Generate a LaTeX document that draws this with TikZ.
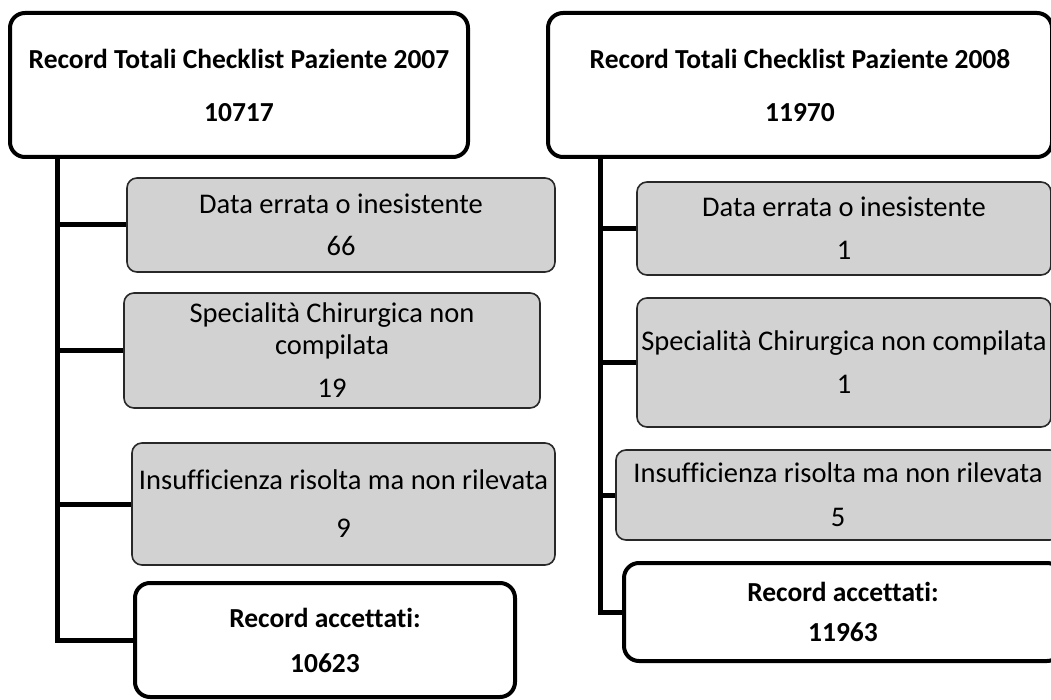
\documentclass[tikz,border=0pt]{standalone}
\usepackage{fontspec}
\setmainfont[Ligatures=NoCommon]{Carlito}
\definecolor{boxgray}{RGB}{210,210,210}
\definecolor{edgegray}{RGB}{40,40,40}
\tikzset{
  x=1pt, y=-1pt,
  headbox/.style={draw=black, line width=4pt, fill=white, rounded corners=15pt,
    align=center, font=\fontsize{27.5}{32}\selectfont\bfseries, inner sep=0pt},
  errbox/.style={draw=edgegray, line width=1.6pt, fill=boxgray, rounded corners=10pt,
    align=center, font=\fontsize{28.5}{32}\selectfont, inner sep=0pt},
  conn/.style={draw=black, line width=5pt},
}
\begin{document}
\begin{tikzpicture}
\clip (0,0) rectangle (1051,700);
\fill[white] (0,0) rectangle (1051,700);

% 2007 column
\node[headbox, minimum width=458pt, minimum height=144pt] (top07) at (239,85)
  {Record Totali Checklist Paziente 2007\\[21pt]10717};
\node[errbox, minimum width=428pt, minimum height=94pt] (g07a) at (341,225)
  {Data errata o inesistente\\[10pt]66};
\node[errbox, minimum width=416pt, minimum height=115pt] (g07b) at (332,350.5)
  {Specialità Chirurgica non\\compilata\\[11pt]19};
\node[errbox, minimum width=423pt, minimum height=122pt] (g07c) at (343.5,504)
  {Insufficienza risolta ma non rilevata\\[16pt]9};
\node[headbox, minimum width=380pt, minimum height=114pt] (acc07) at (325,640)
  {Record accettati:\\[13pt]10623};

% 2008 column
\node[headbox, minimum width=504pt, minimum height=144pt] (top08) at (800,85)
  {Record Totali Checklist Paziente 2008\\[21pt]11970};
\node[errbox, minimum width=414pt, minimum height=93pt] (g08a) at (844,228.5)
  {Data errata o inesistente\\[11pt]1};
\node[errbox, minimum width=414pt, minimum height=129pt] (g08b) at (844,362.5)
  {Specialità Chirurgica non compilata\\[11pt]1};
\node[errbox, minimum width=444pt, minimum height=90pt] (g08c) at (838,495)
  {Insufficienza risolta ma non rilevata\\[12pt]5};
\node[headbox, minimum width=438pt, minimum height=98pt] (acc08) at (843,612)
  {Record accettati:\\[8pt]11963};

% spines and branches
\coordinate (sp07) at (57,0);
\coordinate (sp08) at (600,0);
\draw[conn] (top07.south -| sp07) |- (acc07.west);
\foreach \b in {g07a,g07b,g07c}
  \draw[conn] (\b.west -| sp07) -- (\b.west);
\draw[conn] (top08.south -| sp08) |- (acc08.west);
\foreach \b in {g08a,g08b,g08c}
  \draw[conn] (\b.west -| sp08) -- (\b.west);
\end{tikzpicture}
\end{document}
